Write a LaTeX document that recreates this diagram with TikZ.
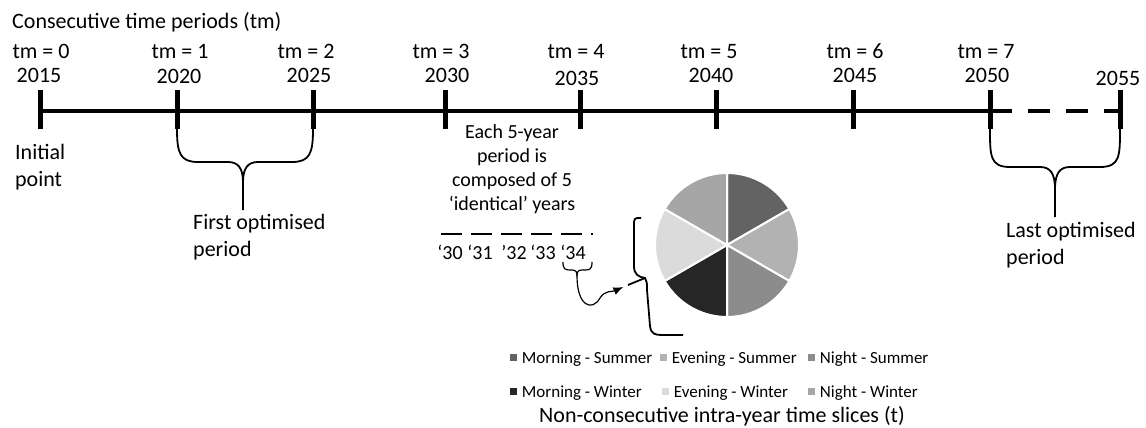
\documentclass[tikz,border=0pt]{standalone}
\usepackage{fontspec}
\setmainfont{Carlito}
\usetikzlibrary{positioning,arrows.meta}
\definecolor{msum}{gray}{0.39}
\definecolor{esum}{gray}{0.70}
\definecolor{nsum}{gray}{0.55}
\definecolor{mwin}{gray}{0.15}
\definecolor{ewin}{gray}{0.86}
\definecolor{nwin}{gray}{0.65}

\begin{document}
\begin{tikzpicture}[x=1pt,y=-1pt,
    lbl/.style={inner sep=0pt, anchor=base, font=\fontsize{22}{27}\selectfont},
    note/.style={inner sep=0pt, align=left, anchor=north west, font=\fontsize{22}{27}\selectfont},
    small/.style={inner sep=0pt, anchor=base, font=\fontsize{20}{24}\selectfont},
    legsq/.style={inner sep=0pt, minimum size=7pt},
    legtxt/.style={inner sep=0pt, yshift=-1.7pt, font=\fontsize{17}{20}\selectfont},
    axis/.style={line width=4.8pt},
    yrtick/.style={line width=5pt},
    brace/.style={line width=1.8pt},
    thinbrace/.style={line width=1.2pt}]
    \useasboundingbox (0,0) rectangle (1146,428);
    % timeline
    \coordinate (y2015) at (40,111);
    \coordinate (y2020) at (177,111);
    \coordinate (y2025) at (313,111);
    \coordinate (y2030) at (445,111);
    \coordinate (y2035) at (580,111);
    \coordinate (y2040) at (716,111);
    \coordinate (y2045) at (853,111);
    \coordinate (y2050) at (990,111);
    \coordinate (y2055) at (1120,111);
    \draw[axis] (y2015) -- (y2050);
    \draw[axis, dash pattern=on 22pt off 16pt] (y2050) -- (y2055);
    \foreach \p in {y2015,y2020,y2025,y2030,y2035,y2040,y2045,y2050,y2055}
        \draw[yrtick] (\p) ++(0,-21) -- ++(0,39);
    % labels
    \node[lbl, anchor=base west] (title) at (12,29) {Consecutive time periods (tm)};
    \node[lbl] (tm0) at (41,59) {tm = 0};
    \node[lbl] (tm1) at (180,59) {tm = 1};
    \node[lbl] (tm2) at (306,59) {tm = 2};
    \node[lbl] (tm3) at (441,59) {tm = 3};
    \node[lbl] (tm4) at (576,59) {tm = 4};
    \node[lbl] (tm5) at (709,59) {tm = 5};
    \node[lbl] (tm6) at (855,59) {tm = 6};
    \node[lbl] (tm7) at (986,59) {tm = 7};
    \node[lbl] (yr0) at (39,83) {2015};
    \node[lbl] (yr1) at (179,84) {2020};
    \node[lbl] (yr2) at (309,82) {2025};
    \node[lbl] (yr3) at (447,83) {2030};
    \node[lbl] (yr4) at (577,85) {2035};
    \node[lbl] (yr5) at (711,83) {2040};
    \node[lbl] (yr6) at (855,83) {2045};
    \node[lbl] (yr7) at (987,83) {2050};
    \node[lbl] (yr8) at (1118,85) {2055};
    \node[note] (initial) at (15,144) {Initial\\point};
    \node[note] (firstper) at (193,214) {First optimised\\period};
    \node[note] (lastper) at (1006,222) {Last optimised\\period};
    % period braces
    \draw[brace] (y2020) ++(0,18) .. controls +(0,24) and +(-18,0) .. (198,162) -- (228,162) .. controls (238,162) and (243,168) .. (243,182) -- (243,210);
    \draw[brace] (y2025) ++(0,18) .. controls +(0,24) and +(18,0) .. (292,162) -- (258,162) .. controls (248,162) and (243,168) .. (243,182);
    \draw[brace] (y2050) ++(0,18) .. controls +(0,27) and +(-20,0) .. (1010,167) -- (1040,167) .. controls (1050,167) and (1055,173) .. (1055,189) -- (1055,217);
    \draw[brace] (y2055) ++(0,18) .. controls +(0,27) and +(20,0) .. (1100,167) -- (1070,167) .. controls (1060,167) and (1055,173) .. (1055,189);
    % five identical years
    \node[small, align=center, anchor=north] (each) at (512,124) {Each 5-year\\period is\\composed of 5\\‘identical’ years};
    \coordinate (dashstart) at (441,234);
    \coordinate (dashend) at (593,234);
    \draw[line width=2.5pt, dash pattern=on 21pt off 9pt] (dashstart) -- (dashend);
    \node[small] (q30) at (450,259) {‘30};
    \node[small] (q31) at (480,259) {‘31};
    \node[small] (q32) at (514,259) {’32};
    \node[small] (q33) at (543,259) {‘33};
    \node[small] (q34) at (573,259) {‘34};
    \coordinate (smalltip) at (577,276);
    \draw[thinbrace] (563,262) .. controls (563,269) and (565,270) .. (570,270) -- (572,270) .. controls (576,270) and (577,272) .. (smalltip);
    \draw[thinbrace] (592,262) .. controls (592,269) and (590,270) .. (585,270) -- (582,270) .. controls (578,270) and (577,272) .. (smalltip);
    % slices brace
    \coordinate (bigcusp) at (628,285);
    \coordinate (bigjoin) at (645,278);
    \draw[brace] (641,218) .. controls (634,218) .. (634,226) -- (634,266) .. controls (634,274) and (638,277) .. (bigjoin) .. controls (647,282) .. (647,290) -- (650,326) .. controls (651,334) and (655,335) .. (662,335) -- (683,335);
    \draw[brace] (bigjoin) -- (bigcusp);
    \draw[thinbrace, -{Latex[length=10pt,width=8pt]}, shorten >=5pt] (smalltip) .. controls (577,306) and (592,312) .. (600,298) .. controls (605,290) and (612,292) .. (bigcusp);
    % pie of time slices
    \coordinate (pie) at (727,245);
    \begin{scope}[shift={(pie)}, y=1pt]
        \foreach \a/\c in {30/msum, -30/esum, -90/nsum, -150/mwin, 150/ewin, 90/nwin}
            \filldraw[fill=\c, draw=white, line width=2pt] (0,0) -- (\a:72) arc[start angle=\a, delta angle=60, radius=72] -- cycle;
    \end{scope}
    % legend
    \node[legsq, fill=msum] (sqms) at (513,357) {};
    \node[legtxt, right=5pt of sqms] (txms) {Morning - Summer};
    \node[legsq, fill=esum] (sqes) at (663,357) {};
    \node[legtxt, right=5pt of sqes] (txes) {Evening - Summer};
    \node[legsq, fill=nsum] (sqns) at (811,357) {};
    \node[legtxt, right=5pt of sqns] (txns) {Night - Summer};
    \node[legsq, fill=mwin] (sqmw) at (513,391) {};
    \node[legtxt, right=5pt of sqmw] (txmw) {Morning - Winter};
    \node[legsq, fill=ewin] (sqew) at (665,391) {};
    \node[legtxt, right=5pt of sqew] (txew) {Evening - Winter};
    \node[legsq, fill=nwin] (sqnw) at (811,391) {};
    \node[legtxt, right=5pt of sqnw] (txnw) {Night - Winter};
    \node[lbl] (slices) at (722,422) {Non-consecutive intra-year time slices (t)};
\end{tikzpicture}
\end{document}
